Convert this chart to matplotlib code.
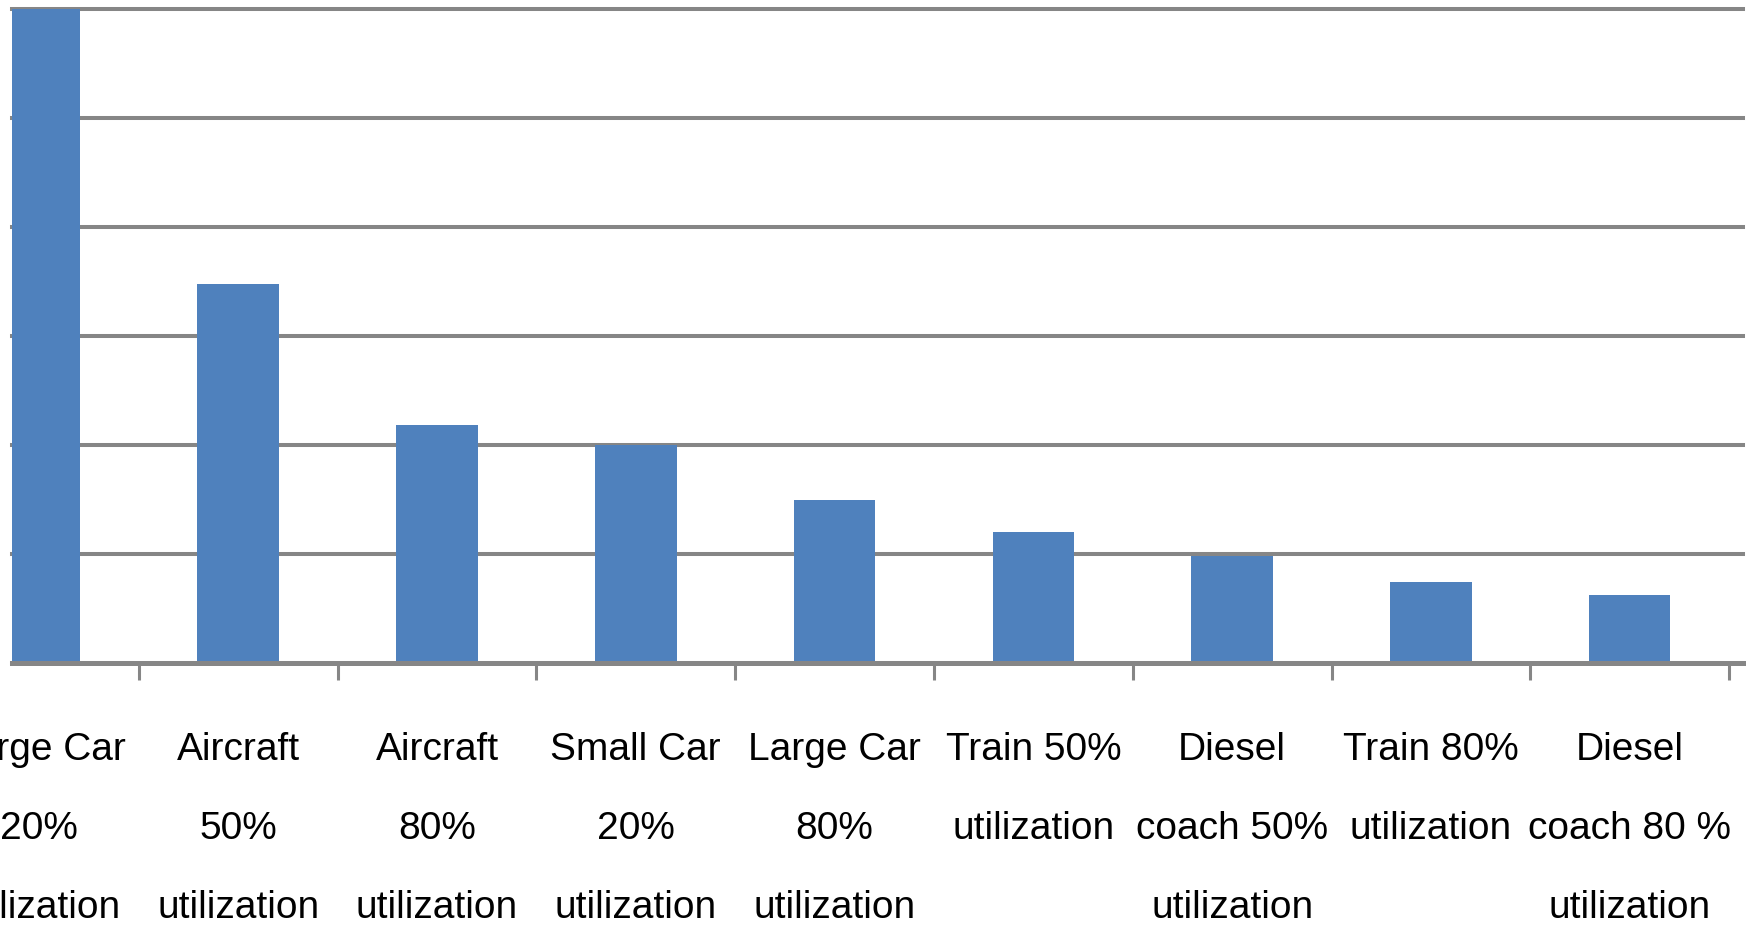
import matplotlib.pyplot as plt

# 数据（从图上估读，纵轴单位未知，按网格 50 一格）
categories = [
    'Large Car\n20%\nutilization',
    'Aircraft\n50%\nutilization',
    'Aircraft\n80%\nutilization',
    'Small Car\n20%\nutilization',
    'Large Car\n80%\nutilization',
    'Train 50%\nutilization',
    'Diesel\ncoach 50%\nutilization',
    'Train 80%\nutilization',
    'Diesel\ncoach 80 %\nutilization',
]
values = [300, 174, 109, 100, 75, 60, 49, 37, 31]
grid_ticks = [0, 50, 100, 150, 200, 250, 300]

bar_color = '#4F81BD'
grid_color = '#868686'

W, H, DPI = 1749, 936, 100


def main():
    plt.rcParams['font.family'] = ['Liberation Sans', 'DejaVu Sans']

    fig = plt.figure(figsize=(W / DPI, H / DPI), dpi=DPI)
    # 坐标区位置（像素换算）
    left, right = 12 / W, 1743 / W
    bottom, top = (H - 663) / H, (H - 9) / H
    ax = fig.add_axes([left, bottom, right - left, top - bottom])

    x = list(range(len(categories)))
    ax.bar(x, values, width=0.41, color=bar_color, zorder=2)

    ax.set_xlim(-0.138, 8.57)
    ax.set_ylim(0, 300)

    # 网格线
    ax.set_yticks(grid_ticks)
    ax.yaxis.grid(True, color=grid_color, linewidth=2.9, zorder=1)
    ax.tick_params(axis='y', length=0, labelleft=False)
    for gl in ax.get_ygridlines():
        gl.set_clip_on(False)

    # 类别标签与分隔刻度
    ax.set_xticks(x)
    ax.set_xticklabels(categories, fontsize=28, linespacing=2.52, color='#000000')
    ax.set_xticks([i + 0.5 for i in x], minor=True)
    ax.tick_params(axis='x', which='major', length=0, pad=50)
    ax.tick_params(axis='x', which='minor', length=12, width=2.2,
                   color=grid_color, direction='out')

    for side in ['left', 'right', 'top']:
        ax.spines[side].set_visible(False)
    ax.spines['bottom'].set_color(grid_color)
    ax.spines['bottom'].set_linewidth(3.6)
    ax.spines['bottom'].set_zorder(3)

    fig.savefig('out.png', dpi=DPI)


if __name__ == '__main__':
    main()
